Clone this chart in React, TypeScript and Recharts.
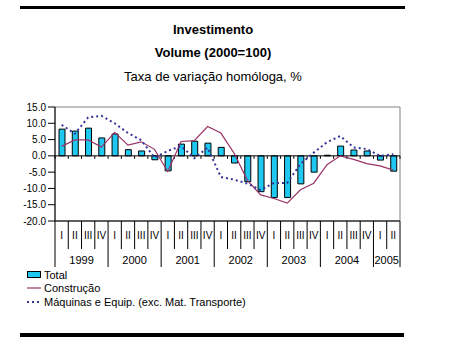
import { Bar, ComposedChart, Legend, Line, ReferenceArea, ReferenceLine, XAxis, YAxis } from 'recharts'

const years = ['1999', '2000', '2001', '2002', '2003', '2004', '2005']
const quartersInYear = [4, 4, 4, 4, 4, 4, 2]
const quarterNames = ['I', 'II', 'III', 'IV']

const total = [8.2, 7.6, 8.5, 5.5, 6.7, 1.9, 1.5, -1.2, -4.6, 3.6, 4.5, 3.9, 2.6, -2.2, -7.9, -11.0, -12.8, -12.8, -8.6, -5.0, 0.2, 3.0, 1.8, 1.5, -1.3, -4.7]
const construcao = [2.9, 4.9, 4.9, 2.7, 7.2, 3.3, 4.3, 2.0, -4.8, 4.4, 4.7, 9.0, 7.0, 0.8, -7.5, -12.0, -13.1, -14.5, -10.4, -8.4, -2.7, 0.0, -1.1, -2.4, -3.1, -4.4]
const maquinas = [9.5, 6.8, 11.8, 12.3, 10.0, 7.0, 4.8, -0.5, 1.5, 3.0, -0.7, 2.5, -6.5, -7.3, -8.5, -10.5, -8.3, -8.3, -2.5, 1.0, 4.2, 6.1, 2.6, 2.1, 0.0, 0.5]

const yTicks = [-20, -15, -10, -5, 0, 5, 10, 15]
const legendOrder = ['total', 'construcao', 'maquinas']

const categories = years.flatMap((year, yi) =>
  quarterNames.slice(0, quartersInYear[yi]).map((q, qi) => ({ year, q, qi, yi }))
)

const data = categories.map((c, i) => ({
  key: `${c.year} ${c.q}`,
  total: total[i],
  construcao: construcao[i],
  maquinas: maquinas[i],
}))

const CategoryTick = (props: any) => {
  const { x, y, index, width, visibleTicksCount, payload } = props
  const count = visibleTicksCount || categories.length
  const band = payload && payload.offset ? payload.offset * 2 : width / count
  const c = categories[index]
  const left = x - band / 2
  const first = c.qi === 0
  const last = index === count - 1
  return (
    <g>
      <line x1={left} x2={left} y1={y} y2={y + (first ? 46 : 28)} stroke="#000" />
      {last && <line x1={left + band} x2={left + band} y1={y} y2={y + 46} stroke="#000" />}
      <text x={x} y={y + 17.5} textAnchor="middle" fontSize={10} fill="#000">
        {c.q}
      </text>
      {first && (
        <text x={left + (band * quartersInYear[c.yi]) / 2} y={y + 43} textAnchor="middle" fontSize={11} fill="#000">
          {c.year}
        </text>
      )}
    </g>
  )
}

// zero line with the little tick marks between quarters
const ZeroAxis = (props: any) => {
  const { x1, x2, y1 } = props
  const step = (x2 - x1) / categories.length
  return (
    <g>
      <line x1={x1} x2={x2} y1={y1} y2={y1} stroke="#000" />
      {[...categories, null].map((_, i) => (
        <line key={i} x1={x1 + step * i} x2={x1 + step * i} y1={y1} y2={y1 + 3} stroke="#000" />
      ))}
    </g>
  )
}

const LegendIcon = ({ k }: { k: string }) => (
  <svg width={15} height={8} style={{ marginRight: 2, verticalAlign: 'middle' }}>
    {k === 'total' && <rect x={0.5} y={0.5} width={13} height={6} fill="#1EC8F0" stroke="#000" />}
    {k === 'construcao' && <line x1={0} x2={14} y1={4} y2={4} stroke="#993366" strokeWidth={1.2} />}
    {k === 'maquinas' && <line x1={0} x2={14} y1={4} y2={4} stroke="#333399" strokeWidth={2} strokeDasharray="2 3" />}
  </svg>
)

const renderLegend = (props: any) => {
  const items = [...(props.payload || [])].sort(
    (a: any, b: any) => legendOrder.indexOf(a.dataKey) - legendOrder.indexOf(b.dataKey)
  )
  return (
    <div style={{ fontSize: 11, lineHeight: '12.5px', color: '#000' }}>
      {items.map((p: any) => (
        <div key={p.dataKey} style={{ whiteSpace: 'nowrap' }}>
          <LegendIcon k={p.dataKey} />
          <span style={{ verticalAlign: 'middle' }}>{p.value}</span>
        </div>
      ))}
    </div>
  )
}

const App = () => {
  return (
    <div
      style={{
        position: 'absolute',
        left: 0,
        top: 0,
        width: 450,
        height: 356,
        background: '#fff',
        fontFamily: '"Liberation Sans", Arial, sans-serif',
        color: '#000',
      }}
    >
      <div style={{ position: 'absolute', left: 20, top: 6, width: 385, height: 3, background: '#000' }} />
      <div style={{ position: 'absolute', left: 20, top: 333, width: 384, height: 4, background: '#000' }} />
      <div style={{ position: 'absolute', left: 0, width: 426, top: 22, textAlign: 'center', fontSize: 13, fontWeight: 'bold' }}>
        Investimento
      </div>
      <div style={{ position: 'absolute', left: 0, width: 426, top: 45, textAlign: 'center', fontSize: 13, fontWeight: 'bold' }}>
        Volume (2000=100)
      </div>
      <div style={{ position: 'absolute', left: 0, width: 426, top: 69, textAlign: 'center', fontSize: 13 }}>
        Taxa de variação homóloga, %
      </div>
      <ComposedChart width={450} height={356} data={data} margin={{ top: 107, right: 50, bottom: 89, left: 0 }}>
        <ReferenceArea y1={-20} y2={15} fill="none" stroke="#808080" ifOverflow="visible" />
        <XAxis
          dataKey="key"
          height={46}
          interval={0}
          tickSize={0}
          tickMargin={0}
          tickLine={false}
          axisLine={{ stroke: '#000' }}
          tick={<CategoryTick />}
        />
        <YAxis
          width={55}
          domain={[-20, 15]}
          ticks={yTicks}
          interval={0}
          tickSize={7}
          tickMargin={2}
          tickFormatter={(v: number) => v.toFixed(1)}
          tick={{ fontSize: 10, fill: '#000' }}
          tickLine={{ stroke: '#000' }}
          axisLine={{ stroke: '#000' }}
        />
        <Bar dataKey="total" name="Total" fill="#1EC8F0" stroke="#000" strokeWidth={1} barSize={6} isAnimationActive={false} />
        <ReferenceLine y={0} shape={<ZeroAxis />} />
        <Line
          dataKey="construcao"
          name="Construção"
          type="linear"
          stroke="#993366"
          strokeWidth={1.2}
          dot={false}
          isAnimationActive={false}
        />
        <Line
          dataKey="maquinas"
          name="Máquinas e Equip. (exc. Mat. Transporte)"
          type="linear"
          stroke="#333399"
          strokeWidth={2}
          strokeDasharray="2 3"
          dot={false}
          isAnimationActive={false}
        />
        <Legend
          layout="vertical"
          align="center"
          verticalAlign="middle"
          content={renderLegend}
          wrapperStyle={{ left: 27, top: 268 }}
        />
      </ComposedChart>
    </div>
  )
}

export default App
